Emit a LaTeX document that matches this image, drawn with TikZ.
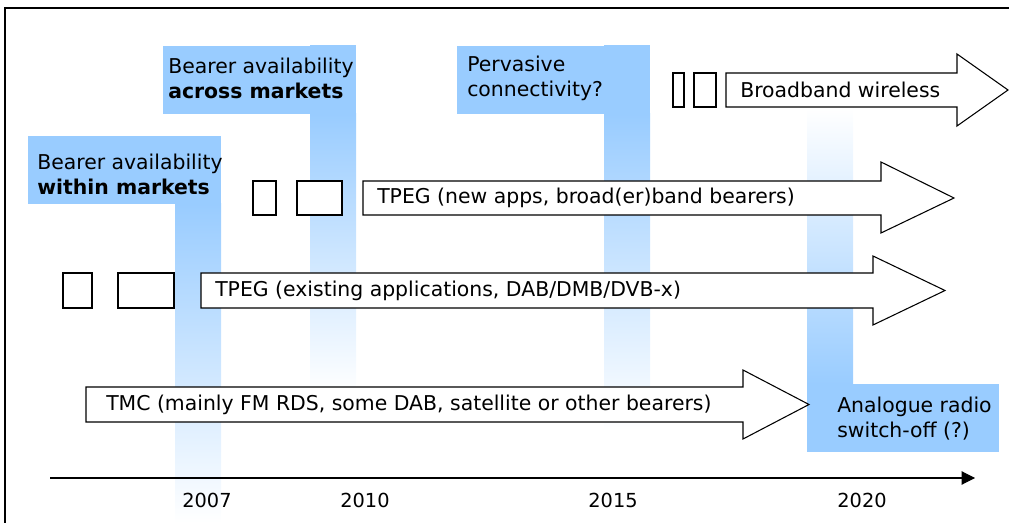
\documentclass[tikz,border=0pt]{standalone}
\usepackage{fontspec}
\setmainfont{DejaVu Sans}
\usepackage{xcolor}
\usepackage{tikz}
\usetikzlibrary{arrows.meta}

\definecolor{barblue}{RGB}{153,204,255}

\begin{document}
\begin{tikzpicture}[x=0.75pt,y=-0.75pt,
  blockarrow/.style={draw=black,fill=white,line width=0.8pt},
  gapbox/.style={draw=black,fill=white,line width=0.8pt},
  boxtext/.style={anchor=west,inner sep=0pt,align=left,font=\fontsize{15.3}{18.75}\selectfont},
  yeartext/.style={inner sep=0pt,font=\fontsize{14.5}{16}\selectfont}]

\useasboundingbox (0,0) rectangle (1009,523);

% Frame (left and top edges only are visible)
\draw[line width=1.1pt] (5,523) -- (5,8) -- (1009,8);

% Fading year bars
\shade[top color=barblue,bottom color=white] (175,204) rectangle (221,523);
\shade[top color=barblue,bottom color=white] (310,114) rectangle (356,392);
\fill[barblue] (310,45) rectangle (356,114);
\shade[top color=barblue,bottom color=white] (604,114) rectangle (650,430);
\fill[barblue] (604,45) rectangle (650,114);
\shade[top color=white,bottom color=barblue] (807,108) rectangle (853,384);

% Milestone boxes
\fill[barblue] (28,136) rectangle (221,204);
\fill[barblue] (163,46) rectangle (356,114);
\fill[barblue] (457,46) rectangle (650,114);
\fill[barblue] (807,384) rectangle (999,452);

\node[boxtext] (within) at (37,174) {Bearer availability\\\textbf{within markets}};
\node[boxtext] (across) at (168,78) {Bearer availability\\\textbf{across markets}};
\node[boxtext] (pervasive) at (467,78) {Pervasive\\connectivity?};
\node[boxtext] (analogue) at (837,419) {Analogue radio\\switch-off (?)};

% Broadband wireless arrow
\draw[gapbox] (673,73) rectangle (684,107);
\draw[gapbox] (694,73) rectangle (716,107);
\draw[blockarrow] (726,73) -- (957,73) -- (957,54) -- (1008,90) -- (957,126) -- (957,107) -- (726,107) -- cycle;
\node[boxtext] (wireless) at (740,90) {Broadband wireless};

% TPEG new apps arrow
\draw[gapbox] (253,181) rectangle (276,215);
\draw[gapbox] (297,181) rectangle (342,215);
\draw[blockarrow] (363,181) -- (881,181) -- (881,162) -- (954,198) -- (881,233) -- (881,215) -- (363,215) -- cycle;
\node[boxtext] (tpegnew) at (377,198) {TPEG (new apps, broad(er)band bearers)};

% TPEG existing arrow
\draw[gapbox] (63,273) rectangle (92,308);
\draw[gapbox] (118,273) rectangle (174,308);
\draw[blockarrow] (201,273) -- (873,273) -- (873,256) -- (945,290.5) -- (873,325) -- (873,308) -- (201,308) -- cycle;
\node[boxtext] (tpegold) at (215,290.5) {TPEG (existing applications, DAB/DMB/DVB-x)};

% TMC arrow
\draw[blockarrow] (86,387) -- (743,387) -- (743,370) -- (809,404.5) -- (743,439) -- (743,422) -- (86,422) -- cycle;
\node[boxtext] (tmc) at (106,404.5) {TMC (mainly FM RDS, some DAB, satellite or other bearers)};

% Time axis
\coordinate (axisstart) at (50,478);
\coordinate (axisend) at (975,478);
\draw[line width=0.8pt,-{Triangle[length=10pt,width=10pt]}] (axisstart) -- (axisend);

\node[yeartext] (y2007) at (207,500) {2007};
\node[yeartext] (y2010) at (365,500) {2010};
\node[yeartext] (y2015) at (613,500) {2015};
\node[yeartext] (y2020) at (862,500) {2020};

\end{tikzpicture}
\end{document}
